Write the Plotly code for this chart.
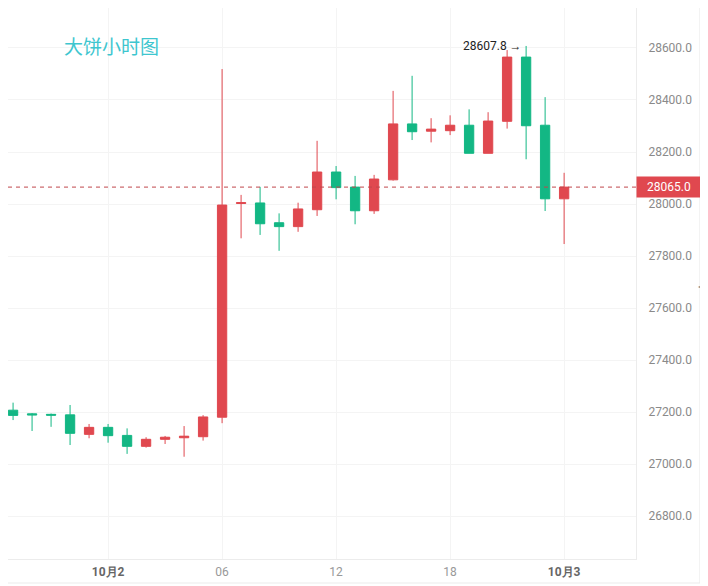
import plotly.graph_objects as go

# hourly candles
times = [
    "2023-10-01 18:00", "2023-10-01 19:00", "2023-10-01 20:00", "2023-10-01 21:00",
    "2023-10-01 22:00", "2023-10-01 23:00", "2023-10-02 00:00", "2023-10-02 01:00",
    "2023-10-02 02:00", "2023-10-02 03:00", "2023-10-02 04:00", "2023-10-02 05:00",
    "2023-10-02 06:00", "2023-10-02 07:00", "2023-10-02 08:00", "2023-10-02 09:00",
    "2023-10-02 10:00", "2023-10-02 11:00", "2023-10-02 12:00", "2023-10-02 13:00",
    "2023-10-02 14:00", "2023-10-02 15:00", "2023-10-02 16:00", "2023-10-02 17:00",
    "2023-10-02 18:00", "2023-10-02 19:00", "2023-10-02 20:00", "2023-10-02 21:00",
    "2023-10-02 22:00", "2023-10-02 23:00", "2023-10-03 00:00",
]
opens = [27220, 27207, 27193, 27191, 27189, 27114, 27141, 27110, 27068, 27095, 27101, 27105,
         27180, 28002, 28004, 27928, 27913, 27978, 28123, 28065, 27974, 28093, 28308, 28280,
         28282, 28303, 28195, 28318, 28565, 28303, 28020]
highs = [27232, 27236, 27196, 27194, 27227, 27154, 27154, 27137, 27103, 27108, 27146, 27188,
         28519, 28035, 28066, 27964, 28005, 28243, 28146, 28108, 28112, 28435, 28493, 28330,
         28341, 28364, 28353, 28592, 28607.8, 28411, 28120]
lows = [27195, 27169, 27127, 27143, 27073, 27099, 27082, 27039, 27063, 27077, 27028, 27090,
        27157, 27868, 27881, 27820, 27893, 27954, 28018, 27922, 27962, 28090, 28246, 28237,
        28265, 28195, 28195, 28290, 28172, 27973, 27846]
closes = [27207, 27187, 27189, 27188, 27118, 27141, 27109, 27068, 27095, 27103, 27107, 27181,
          27996, 28005, 27924, 27913, 27981, 28123, 28063, 27974, 28096, 28308, 28278, 28288,
          28303, 28195, 28319, 28565, 28301, 28020, 28065]

last_price = 28065.0
high_time = "2023-10-02 22:00"
high_price = 28607.8

tick_times = ["2023-10-02 00:00", "2023-10-02 06:00", "2023-10-02 12:00",
              "2023-10-02 18:00", "2023-10-03 00:00"]
tick_text = ["<span style='color:#666'><b>10月2</b></span>", "06", "12", "18",
             "<span style='color:#666'><b>10月3</b></span>"]
y_ticks = [26800, 27000, 27200, 27400, 27600, 27800, 28000, 28200, 28400, 28600]

RED = "#e0484f"
GREEN = "#13b784"

# page body has an 8px margin, so the figure is 8px smaller and everything is offset
PW, PH = 628, 551  # plot area in px

fig = go.Figure()
fig.add_trace(go.Candlestick(
    x=times, open=opens, high=highs, low=lows, close=closes,
    increasing=dict(line=dict(color=RED, width=1), fillcolor=RED),
    decreasing=dict(line=dict(color=GREEN, width=1), fillcolor=GREEN),
    whiskerwidth=0, showlegend=False,
))

# dashed last-price line
fig.add_shape(type="line", xref="paper", x0=0, x1=1, y0=last_price, y1=last_price,
              line=dict(color="#c0474c", width=1, dash="4px,4px"))

# last-price tag on the axis
fig.add_annotation(xref="paper", x=1, y=last_price, xanchor="left", yanchor="middle",
                   text="28065.0", showarrow=False, bgcolor=RED, width=60, height=16,
                   borderpad=2, font=dict(color="white", size=12, family="Roboto"))

# high marker
fig.add_annotation(x=high_time, y=high_price, xanchor="right", yanchor="middle", xshift=-2,
                   text="28607.8 →", showarrow=False,
                   font=dict(color="#222", size=12, family="Roboto"))

# title
fig.add_annotation(xref="paper", yref="paper", x=54 / PW, y=1 - 37 / PH,
                   xanchor="left", yanchor="middle", text="大饼小时图", showarrow=False,
                   font=dict(color="#3ec6cf", size=19, family="Noto Sans CJK SC"))

# right side panel strip and handle
fig.add_shape(type="rect", xref="paper", yref="paper", x0=692 / PW, x1=700 / PW,
              y0=-24 / PH, y1=1, fillcolor="#f2f2f2", line=dict(width=0))
fig.add_shape(type="line", xref="paper", yref="paper", x0=692 / PW, x1=692 / PW,
              y0=-24 / PH, y1=1, line=dict(color="#e6e6e6", width=1))
fig.add_shape(type="rect", xref="paper", yref="paper", x0=692 / PW, x1=700 / PW,
              y0=1 - 297 / PH, y1=1 - 259 / PH, fillcolor="#dcdcdc", line=dict(width=0))
fig.add_annotation(xref="paper", yref="paper", x=696 / PW, y=1 - 278 / PH,
                   text="◂", showarrow=False, font=dict(color="#888", size=8))
# bottom border
fig.add_shape(type="line", xref="paper", yref="paper", x0=0, x1=692 / PW,
              y0=-24 / PH, y1=-24 / PH, line=dict(color="#ebebeb", width=1))

fig.update_layout(
    width=700, height=578,
    margin=dict(l=0, r=72, t=0, b=27),
    paper_bgcolor="white", plot_bgcolor="white",
    font=dict(family="Roboto", color="#8a8a8a", size=12),
    xaxis=dict(
        type="date", range=["2023-10-01 18:44", "2023-10-03 03:47"],
        rangeslider=dict(visible=False),
        tickvals=tick_times, ticktext=tick_text,
        showgrid=True, gridcolor="#f4f4f4", gridwidth=1,
        showline=True, linecolor="#ececec", linewidth=1,
        ticks="outside", ticklen=2, tickcolor="rgba(0,0,0,0)",
        tickfont=dict(color="#999", size=12, family="Roboto"),
        zeroline=False, fixedrange=True,
    ),
    yaxis=dict(
        side="right", range=[26634.7, 28753.8],
        tickvals=y_ticks, tickformat=".1f",
        showgrid=True, gridcolor="#f4f4f4", gridwidth=1,
        showline=True, linecolor="#ececec", linewidth=1,
        ticks="outside", ticklen=9, tickcolor="rgba(0,0,0,0)",
        tickfont=dict(color="#8a8a8a", size=12, family="Roboto"),
        zeroline=False,
    ),
)

fig.write_html("out.html")
